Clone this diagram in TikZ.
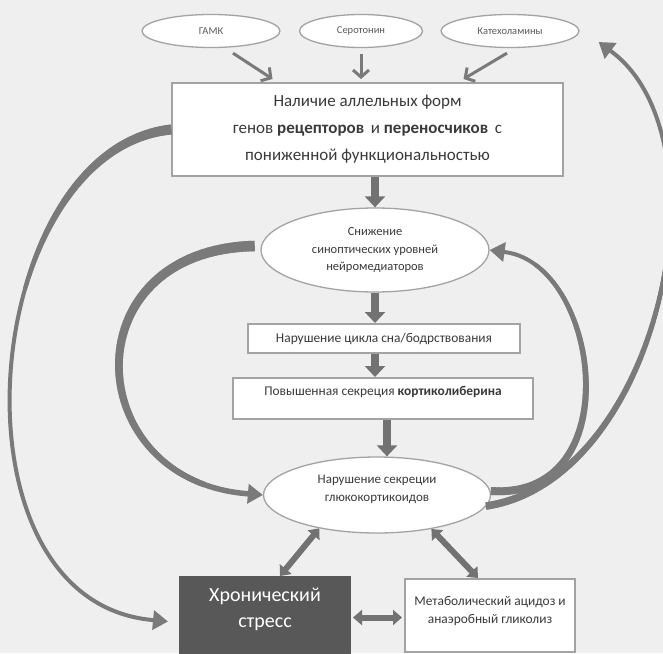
\documentclass[tikz,border=0pt]{standalone}
\usepackage{fontspec}
\setmainfont{Carlito}
\usetikzlibrary{arrows.meta,shapes.geometric,decorations.markings,calc}

\definecolor{bg}{HTML}{EFEFEF}
\definecolor{edge}{HTML}{A3A3A3}
\definecolor{arr}{HTML}{7A7A7A}
\definecolor{blk}{HTML}{727272}
\definecolor{txt}{HTML}{3A3A3A}
\definecolor{lighttxt}{HTML}{5A5A5A}
\definecolor{dark}{HTML}{585858}

\tikzset{
  oval/.style={ellipse, draw=edge, line width=1.3pt, fill=white, inner sep=0pt, text=txt, align=center},
  topoval/.style={oval, minimum height=33pt, font=\fontsize{10.5}{12}\selectfont, text=lighttxt},
  rbox/.style={rectangle, draw=edge, line width=2pt, fill=white, inner sep=0pt, text=txt, align=center},
  label text/.style={inner sep=0pt, text=txt, align=center},
  thinarrow/.style={draw=arr, line width=3pt, -{Straight Barb[length=7pt,width=16pt]}},
  blockarrow/.style={draw=blk, line width=8pt, -{Triangle[length=11pt,width=20pt]}},
  dblarrow/.style={draw=blk, line width=6pt, {Triangle[length=9pt,width=15pt]}-{Triangle[length=9pt,width=15pt]}},
  curvearrow/.style={draw=arr, -{Triangle[length=15pt,width=19pt]}},
  taperw/.style n args={3}{postaction={decorate,decoration={markings,
     mark=between positions 0 and #3 step 1.2pt with {%
       \pgfmathsetmacro\htw{0.5*(#1-(#1-#2)*\pgfkeysvalueof{/pgf/decoration/mark info/distance from start}/(#3*\pgfdecoratedpathlength))}%
       \fill[arr] (-0.4pt,-\htw pt) rectangle (1.6pt,\htw pt);}}}},
}

\begin{document}
\begin{tikzpicture}[x=1pt,y=-1pt]
\useasboundingbox (0,0) rectangle (663,653);
\clip (0,0) rectangle (663,653);
\fill[bg] (0,0) rectangle (663,653);

% top ellipses
\node[topoval, minimum width=138pt] (gamk) at (211,31) {ГАМК};
\node[topoval, minimum width=123pt] (sero) at (361,31) {Серотонин};
\node[topoval, minimum width=138pt] (kat) at (510,31) {Катехоламины};

% main box
\node[rbox, minimum width=391pt, minimum height=93pt, font=\fontsize{17}{27}\selectfont] (main) at (367.5,129.5)
  {Наличие аллельных форм\\генов \textbf{рецепторов}\, и \textbf{переносчиков}\, с\\пониженной функциональностью};

% column
\node[oval, minimum width=228pt, minimum height=84pt, font=\fontsize{12.5}{17.5}\selectfont] (snizh) at (375,250)
  {Снижение\\синоптических уровней\\нейромедиаторов};
\node[rbox, minimum width=272pt, minimum height=29pt, font=\fontsize{13.4}{16}\selectfont] (cycle) at (384,338.5)
  {Нарушение цикла сна/бодрствования};
\node[rbox, minimum width=300pt, minimum height=41pt] (corti) at (383,398.5) {};
\node[label text, font=\fontsize{13.4}{16}\selectfont] (cortitxt) at (383,392)
  {Повышенная секреция \textbf{кортиколиберина}};
\node[oval, minimum width=227pt, minimum height=76pt] (gluco) at (377,495) {};
\node[label text, font=\fontsize{13}{18}\selectfont] (glucotxt) at (377,489)
  {Нарушение секреции\\глюкокортикоидов};

% bottom boxes
\node[rbox, draw=dark, fill=dark, minimum width=170pt, minimum height=81pt] (stress) at (265,617.5) {};
\node[label text, text=white, font=\fontsize{20}{26}\selectfont] (stresstxt) at (265,609) {Хронический\\стресс};
\node[rbox, minimum width=170pt, minimum height=73pt] (metab) at (490,615.5) {};
\node[label text, font=\fontsize{13.4}{18}\selectfont] (metabtxt) at (490,611)
  {Метаболический ацидоз и\\анаэробный гликолиз};

% thin arrows from top ellipses
\draw[thinarrow] ([xshift=22pt,yshift=-5pt]gamk.south) -- ([xshift=-95pt,yshift=3pt]main.north);
\draw[thinarrow] ([yshift=-6pt]sero.south) -- ([xshift=-6.5pt,yshift=3pt]main.north);
\draw[thinarrow] ([xshift=-3pt,yshift=-5pt]kat.south) -- ([xshift=96pt,yshift=3pt]main.north);

% block arrows down the column
\draw[blockarrow] (main.south -| snizh.north) -- (snizh.north);
\draw[blockarrow] (snizh.south) -- (snizh.south |- cycle.north);
\draw[blockarrow] (snizh.south |- cycle.south) -- (snizh.south |- corti.north);
\draw[blockarrow] ([xshift=4pt]corti.south) -- ([xshift=4pt]corti.south |- gluco.north);

% double arrows
\draw[dblarrow] (gluco.210) -- ([xshift=15pt]stress.north);
\draw[dblarrow] (gluco.328) -- ([xshift=-12pt]metab.north);
\draw[dblarrow, shorten <=2pt, shorten >=2pt] (stress.east) -- (stress.east -| metab.west);

% curved arrows (the curve ends in a short straight piece that carries the head)
\coordinate (inStress) at ([xshift=-11pt,yshift=-4pt]stress.west);
\coordinate (inKat) at ([xshift=19pt,yshift=-11pt]kat.east);
\draw[curvearrow, line width=4pt, taperw={10}{4}{0.35}] (main.west)
  .. controls (-20,150) and (-60,600) .. ($(inStress)!16pt!(-60,600)$) -- (inStress);
\draw[curvearrow, line width=5.5pt, taperw={10.5}{5.5}{0.85}] ([xshift=-6pt,yshift=4pt]snizh.west)
  .. controls (70,250) and (80,480) .. ($(gluco.west)!16pt!(80,480)$) -- (gluco.west);
\draw[curvearrow, line width=4pt, taperw={8}{4}{0.85}] ([yshift=4pt]gluco.east)
  .. controls (630,500) and (600,265) .. ($(snizh.east)!16pt!(600,265)$) -- (snizh.east);
\draw[curvearrow, line width=4pt, taperw={7.5}{4}{0.6}] ([xshift=-5pt,yshift=-11pt]gluco.east)
  .. controls (660,480) and (730,140) .. ($(inKat)!16pt!(730,140)$) -- (inKat);
\end{tikzpicture}
\end{document}
